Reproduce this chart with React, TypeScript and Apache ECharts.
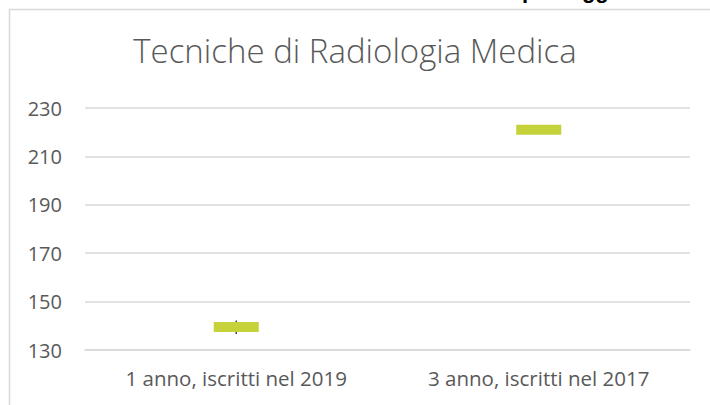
import React, { useEffect, useRef } from "react";
import * as echarts from "echarts";

const categories: string[] = ["1 anno, iscritti nel 2019", "3 anno, iscritti nel 2017"];
const values: number[] = [139.5, 221];
const highs: number[] = [142.2, 221];
const lows: number[] = [136.6, 221];
const yMin = 130;
const yMax = 230;
const yStep = 20;
const titleText = "Tecniche di Radiologia Medica";
const topClippedText = "punteggi";

const FONT = "'Open Sans', 'Liberation Sans', sans-serif";
const TEXT_COLOR = "#595959";
const GRID_COLOR = "#d9d9d9";
const MARK_COLOR = "#c5d23a";

export default function App() {
  const ref = useRef<HTMLDivElement>(null);
  useEffect(() => {
    if (!ref.current) return;
    const chart = echarts.init(ref.current, undefined, { renderer: "svg" });
    chart.setOption({
      animation: false,
      backgroundColor: "#ffffff",
      title: {
        text: titleText,
        left: "center",
        top: 29,
        textStyle: { fontFamily: FONT, fontSize: 33, fontWeight: 300, color: TEXT_COLOR },
      },
      graphic: [
        {
          type: "rect",
          shape: { x: 9.5, y: 9.5, width: 900, height: 600 },
          style: { fill: "none", stroke: GRID_COLOR, lineWidth: 1.5 },
          silent: true,
          z: 0,
        },
        {
          type: "text",
          x: 522,
          y: 1.5,
          style: {
            text: topClippedText,
            font: "bold 22px 'Liberation Sans', sans-serif",
            fill: "#000000",
            textAlign: "left",
            verticalAlign: "bottom",
          },
          silent: true,
        },
      ],
      grid: { left: 85, right: 20, top: 108, bottom: 55, containLabel: false },
      xAxis: {
        type: "category",
        data: categories,
        boundaryGap: true,
        axisLine: { show: true, lineStyle: { color: GRID_COLOR, width: 1.5 } },
        axisTick: { show: false },
        axisLabel: { fontFamily: FONT, fontSize: 20.5, color: TEXT_COLOR, margin: 17 },
        splitLine: { show: false },
      },
      yAxis: {
        type: "value",
        min: yMin,
        max: yMax,
        interval: yStep,
        axisLine: { show: false },
        axisTick: { show: false },
        axisLabel: { fontFamily: FONT, fontSize: 20, color: TEXT_COLOR, margin: 23 },
        splitLine: { show: true, lineStyle: { color: GRID_COLOR, width: 1.5 } },
      },
      series: [
        {
          type: "custom",
          z: 1,
          renderItem: (params: any, api: any) => {
            const top = api.coord([api.value(0), api.value(2)]);
            const bottom = api.coord([api.value(0), api.value(1)]);
            return {
              type: "line",
              shape: { x1: top[0], y1: top[1], x2: bottom[0], y2: bottom[1] },
              style: { stroke: "#404040", lineWidth: 1.5 },
            };
          },
          encode: { x: 0, y: [1, 2] },
          data: categories.map((_, i) => [i, lows[i], highs[i]]),
        },
        {
          type: "scatter",
          z: 3,
          symbol: "rect",
          symbolSize: [45, 10],
          itemStyle: { color: MARK_COLOR, opacity: 1 },
          data: categories.map((_, i) => [i, values[i]]),
        },
      ],
    });
    return () => chart.dispose();
  }, []);
  return (
    <div
      ref={ref}
      style={{ position: "absolute", left: 0, top: 0, width: 710, height: 405 }}
    />
  );
}
